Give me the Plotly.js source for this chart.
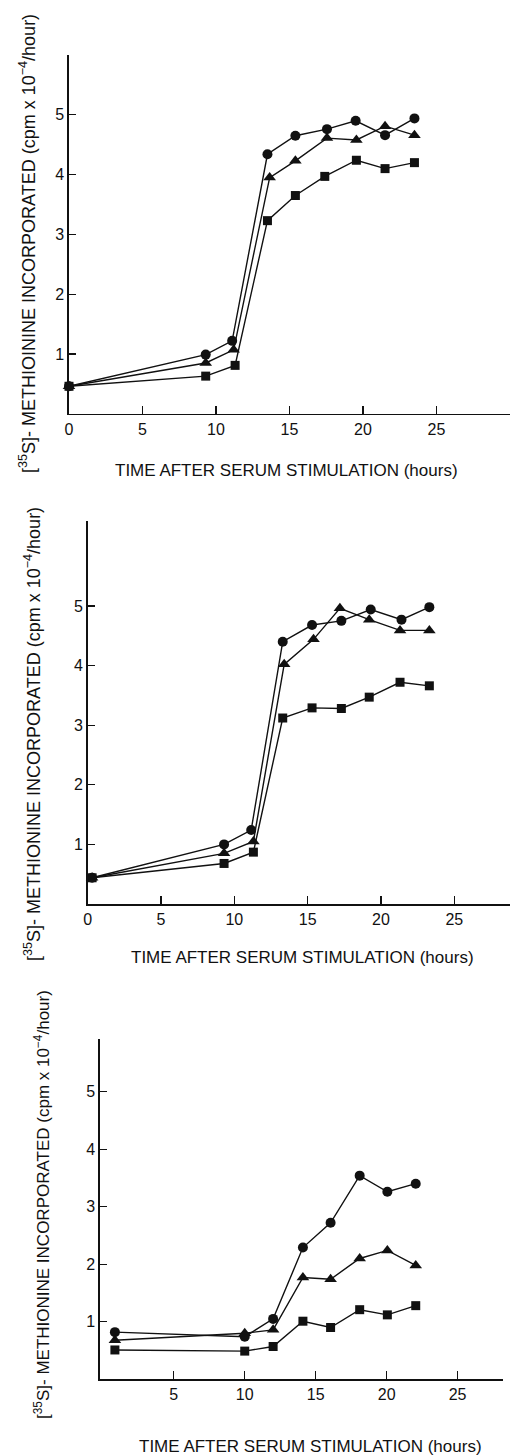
<!DOCTYPE html>
<html>
<head>
<meta charset="utf-8">
<script src="https://cdn.plot.ly/plotly-3.0.1.min.js"></script>
<style>
html,body{margin:0;padding:0;background:#fff;}
#chart{width:511px;height:1455px;}
</style>
</head>
<body>
<div id="chart"></div>
<script>
// ---------- DATA ----------
// Panel 1
const p1CircleX   = [0, 9.3, 11.1, 13.5, 15.4, 17.55, 19.5, 21.5, 23.5];
const p1CircleY   = [0.46, 0.99, 1.22, 4.34, 4.65, 4.76, 4.90, 4.66, 4.94];
const p1TriangleX = [0, 9.3, 11.2, 13.65, 15.4, 17.55, 19.55, 21.5, 23.5];
const p1TriangleY = [0.46, 0.85, 1.07, 3.95, 4.23, 4.61, 4.58, 4.81, 4.66];
const p1SquareX   = [0, 9.3, 11.3, 13.5, 15.4, 17.4, 19.55, 21.5, 23.5];
const p1SquareY   = [0.46, 0.63, 0.81, 3.23, 3.65, 3.97, 4.24, 4.10, 4.20];

// Panel 2
const p2CircleX   = [0.3, 9.3, 11.15, 13.3, 15.3, 17.3, 19.3, 21.4, 23.3];
const p2CircleY   = [0.44, 1.00, 1.24, 4.40, 4.68, 4.75, 4.94, 4.77, 4.98];
const p2TriangleX = [0.3, 9.3, 11.3, 13.4, 15.4, 17.2, 19.2, 21.3, 23.3];
const p2TriangleY = [0.44, 0.85, 1.05, 4.02, 4.44, 4.96, 4.77, 4.59, 4.59];
const p2SquareX   = [0.3, 9.3, 11.3, 13.3, 15.3, 17.3, 19.2, 21.3, 23.3];
const p2SquareY   = [0.44, 0.68, 0.87, 3.12, 3.29, 3.28, 3.47, 3.72, 3.66];

// Panel 3
const p3X         = [0.85, 10, 12, 14.1, 16.05, 18.1, 20.05, 22.05];
const p3CircleY   = [0.82, 0.74, 1.05, 2.29, 2.72, 3.54, 3.26, 3.40];
const p3TriangleY = [0.68, 0.80, 0.86, 1.77, 1.74, 2.10, 2.24, 1.98];
const p3SquareY   = [0.51, 0.49, 0.57, 1.01, 0.90, 1.21, 1.12, 1.28];

// Tick labels
const yTickVals = [1, 2, 3, 4, 5];
const xTickVals12 = [0, 5, 10, 15, 20, 25];
const xTickVals3 = [5, 10, 15, 20, 25];

// Titles
const yTitle1 = "[<sup>35</sup>S]- METHIOININE INCORPORATED (cpm x 10<sup>−4</sup>/hour)";
const yTitle2 = "[<sup>35</sup>S]- METHIONINE INCORPORATED (cpm x 10<sup>−4</sup>/hour)";
const yTitle3 = "[<sup>35</sup>S]- METHIONINE INCORPORATED (cpm x 10<sup>−4</sup>/hour)";
const xTitle  = "TIME AFTER SERUM STIMULATION (hours)";

// ---------- FIGURE ----------
const W = 511, H = 1455;
const FONT = "Liberation Sans, Arial, Helvetica, sans-serif";
const INK = "#111";

function series(x, y, symbol, size, xa, ya) {
  return {
    x: x, y: y, xaxis: xa, yaxis: ya, type: "scatter", mode: "lines+markers",
    line: {color: INK, width: 1.4},
    marker: {symbol: symbol, size: size, color: INK},
    showlegend: false, hoverinfo: "skip", cliponaxis: false
  };
}

const traces = [
  series(p1SquareX, p1SquareY, "square", 9, "x", "y"),
  series(p1TriangleX, p1TriangleY, "triangle-up", 11, "x", "y"),
  series(p1CircleX, p1CircleY, "circle", 10, "x", "y"),
  series(p2SquareX, p2SquareY, "square", 9, "x2", "y2"),
  series(p2TriangleX, p2TriangleY, "triangle-up", 11, "x2", "y2"),
  series(p2CircleX, p2CircleY, "circle", 10, "x2", "y2"),
  series(p3X, p3SquareY, "square", 9, "x3", "y3"),
  series(p3X, p3TriangleY, "triangle-up", 11, "x3", "y3"),
  series(p3X, p3CircleY, "circle", 10, "x3", "y3")
];

function xAxis(anchor, range, dom, vals) {
  return {
    anchor: anchor, range: range, domain: dom,
    tickmode: "array", tickvals: vals, ticktext: vals.map(String),
    ticks: "inside", ticklen: 8, tickwidth: 1.2, tickcolor: INK,
    showline: true, linecolor: INK, linewidth: 1.6,
    showgrid: false, zeroline: false,
    tickfont: {family: FONT, size: 16, color: INK}, fixedrange: true
  };
}
function yAxis(anchor, range, dom) {
  return {
    anchor: anchor, range: range, domain: dom,
    tickmode: "array", tickvals: yTickVals, ticktext: yTickVals.map(String),
    ticks: "inside", ticklen: 7, tickwidth: 1.2, tickcolor: INK,
    showline: true, linecolor: INK, linewidth: 1.6,
    showgrid: false, zeroline: false,
    tickfont: {family: FONT, size: 16, color: INK}, fixedrange: true
  };
}
const px = v => v / W;
const py = v => 1 - v / H;

function ann(text, x, y, angle, size) {
  return {
    text: text, xref: "paper", yref: "paper", x: px(x), y: py(y),
    xanchor: "center", yanchor: "middle", showarrow: false, textangle: angle,
    font: {family: FONT, size: size, color: INK}
  };
}

const layout = {
  width: W, height: H,
  margin: {l: 0, r: 0, t: 0, b: 0},
  paper_bgcolor: "#fff", plot_bgcolor: "rgba(0,0,0,0)",
  showlegend: false,
  xaxis:  xAxis("y",  [0, 30],       [px(69), px(510)],  xTickVals12),
  yaxis:  yAxis("x",  [0, 6],        [py(413.8), py(55)]),
  xaxis2: xAxis("y2", [0, 28.8],     [px(87.7), px(510)], xTickVals12),
  yaxis2: yAxis("x2", [0, 6.43],     [py(904), py(520.7)]),
  xaxis3: xAxis("y3", [-0.2, 28.2],  [px(100), px(503)], xTickVals3),
  yaxis3: yAxis("x3", [0, 5.91],     [py(1379.3), py(1039.3)]),
  annotations: [
    ann(yTitle1, 28, 244, -90, 18),
    ann(xTitle, 286, 471, 0, 17),
    ann(yTitle2, 32, 734, -90, 18),
    ann(xTitle, 302, 957, 0, 17),
    ann(yTitle3, 42, 1205, -90, 17),
    ann(xTitle, 310, 1446, 0, 17)
  ]
};

Plotly.newPlot("chart", traces, layout, {staticPlot: true, displayModeBar: false});
</script>
</body>
</html>
